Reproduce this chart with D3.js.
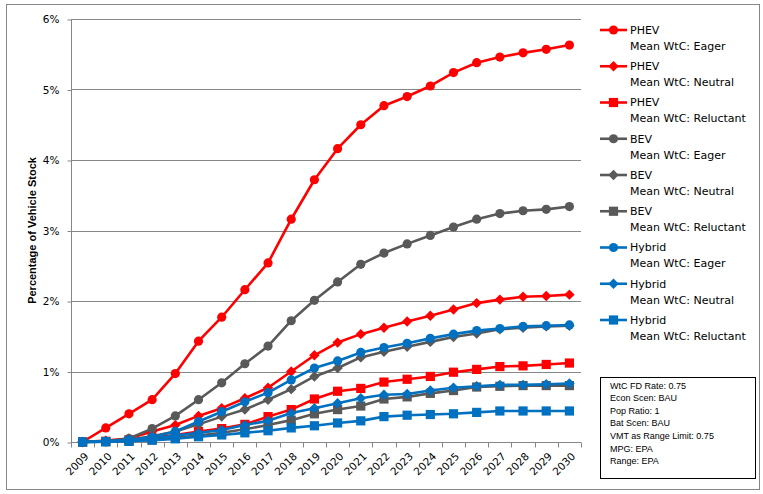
<!DOCTYPE html>
<html><head><meta charset="utf-8">
<script src="https://cdn.jsdelivr.net/npm/d3@7"></script>
<style>
html,body{margin:0;padding:0;background:#fff;}
svg{display:block;}
</style></head>
<body>
<svg id="chart" width="763" height="494"></svg>
<script>
const years = ["2009","2010","2011","2012","2013","2014","2015","2016","2017","2018","2019","2020","2021","2022","2023","2024","2025","2026","2027","2028","2029","2030"];
const yTicks = [0,1,2,3,4,5,6];

const phevEager      = [0,0.20,0.40,0.60,0.97,1.43,1.77,2.16,2.54,3.16,3.72,4.16,4.50,4.77,4.90,5.05,5.24,5.38,5.46,5.52,5.57,5.63];
const phevNeutral    = [0,0.02,0.05,0.15,0.24,0.37,0.48,0.62,0.77,1.00,1.23,1.41,1.53,1.62,1.71,1.79,1.88,1.97,2.02,2.06,2.07,2.09];
const phevReluctant  = [0,0.01,0.03,0.06,0.10,0.15,0.19,0.25,0.36,0.46,0.61,0.72,0.76,0.85,0.89,0.93,0.99,1.03,1.07,1.08,1.10,1.12];
const bevEager       = [0,0.01,0.05,0.19,0.37,0.60,0.84,1.11,1.36,1.72,2.01,2.27,2.52,2.68,2.81,2.93,3.05,3.16,3.24,3.28,3.30,3.34];
const bevNeutral     = [0,0.01,0.03,0.08,0.15,0.25,0.36,0.46,0.60,0.75,0.93,1.05,1.20,1.28,1.35,1.42,1.49,1.54,1.60,1.62,1.64,1.65];
const bevReluctant   = [0,0.005,0.01,0.03,0.06,0.09,0.13,0.18,0.24,0.31,0.40,0.46,0.51,0.61,0.64,0.69,0.73,0.78,0.79,0.80,0.80,0.80];
const hybridEager    = [0,0.01,0.03,0.07,0.15,0.29,0.43,0.57,0.70,0.88,1.05,1.15,1.27,1.34,1.40,1.47,1.53,1.58,1.61,1.64,1.65,1.66];
const hybridNeutral  = [0,0.005,0.02,0.05,0.09,0.13,0.17,0.24,0.30,0.41,0.48,0.55,0.62,0.67,0.68,0.73,0.77,0.79,0.81,0.81,0.82,0.83];
const hybridReluctant= [0,0.003,0.01,0.025,0.045,0.075,0.10,0.13,0.16,0.20,0.23,0.27,0.30,0.36,0.38,0.39,0.40,0.42,0.44,0.44,0.44,0.44];

const seriesNames = ["PHEV","PHEV","PHEV","BEV","BEV","BEV","Hybrid","Hybrid","Hybrid"];
const seriesSub = ["Mean WtC: Eager","Mean WtC: Neutral","Mean WtC: Reluctant","Mean WtC: Eager","Mean WtC: Neutral","Mean WtC: Reluctant","Mean WtC: Eager","Mean WtC: Neutral","Mean WtC: Reluctant"];
const seriesValues = [phevEager,phevNeutral,phevReluctant,bevEager,bevNeutral,bevReluctant,hybridEager,hybridNeutral,hybridReluctant];
const seriesColors = ["#ff0000","#ff0000","#ff0000","#595959","#595959","#595959","#0070c0","#0070c0","#0070c0"];
const seriesMarkers = ["circle","diamond","square","circle","diamond","square","circle","diamond","square"];

const infoLines = ["WtC FD Rate: 0.75","Econ Scen: BAU","Pop Ratio: 1","Bat Scen: BAU","VMT as Range Limit: 0.75","MPG: EPA","Range: EPA"];

const svg = d3.select("#chart");
const axisColor = "#868686";
const pLeft = 71, pRight = 581, pTop = 19, pBottom = 442;

// outer border
svg.append("rect").attr("x",6.5).attr("y",4.5).attr("width",753).attr("height",485)
  .attr("fill","#fff").attr("stroke",axisColor).attr("stroke-width",1);

const x = d3.scaleBand().domain(years).range([pLeft,pRight]);
const xc = d => x(d) + x.bandwidth()/2;
const y = d3.scaleLinear().domain([0,6]).range([pBottom,pTop]);

// gridlines
svg.append("g").selectAll("line").data(yTicks.filter(t=>t>0)).join("line")
  .attr("x1",pLeft).attr("x2",pRight)
  .attr("y1",d=>Math.round(y(d))+0.5).attr("y2",d=>Math.round(y(d))+0.5)
  .attr("stroke",axisColor).attr("stroke-width",1);

// y axis
const yAxis = svg.append("g").attr("transform",`translate(${pLeft+0.5},0.5)`)
  .call(d3.axisLeft(y).tickValues(yTicks).tickFormat(d=>d+"%").tickSize(4).tickPadding(8));
yAxis.select(".domain").attr("stroke",axisColor).attr("d",`M0,${pTop}V${pBottom}`);
yAxis.selectAll(".tick line").attr("stroke",axisColor);
yAxis.selectAll(".tick text").attr("font-family","DejaVu Sans, Verdana, sans-serif").attr("font-size","10.5px").attr("fill","#000");

// x axis
const xAxisG = svg.append("g").attr("transform",`translate(0,${pBottom+0.5})`);
xAxisG.append("line").attr("x1",pLeft).attr("x2",pRight).attr("y1",0).attr("y2",0).attr("stroke",axisColor);
const bounds = years.map(d=>x(d)).concat([pRight]);
xAxisG.selectAll("line.tk").data(bounds).join("line").attr("class","tk")
  .attr("x1",d=>Math.round(d)+0.5).attr("x2",d=>Math.round(d)+0.5).attr("y1",0).attr("y2",5)
  .attr("stroke",axisColor);
xAxisG.selectAll("text").data(years).join("text")
  .attr("transform",d=>`translate(${xc(d)+4},${12}) rotate(-45)`)
  .attr("text-anchor","end").attr("dy","0.35em")
  .attr("font-family","DejaVu Sans, Verdana, sans-serif").attr("font-size","10.5px").attr("fill","#000")
  .text(d=>d);

// y title
svg.append("text").attr("transform",`translate(36,${(pTop+pBottom)/2}) rotate(-90)`)
  .attr("text-anchor","middle").attr("font-family","Liberation Sans, Arial, sans-serif")
  .attr("font-weight","bold").attr("font-size","11px").attr("fill","#000")
  .text("Percentage of Vehicle Stock");

function drawMarker(g, type, cx, cy, color){
  if(type==="circle"){
    g.append("circle").attr("cx",cx).attr("cy",cy).attr("r",4.6).attr("fill",color);
  } else if(type==="square"){
    g.append("rect").attr("x",cx-4.6).attr("y",cy-4.6).attr("width",9.2).attr("height",9.2).attr("fill",color);
  } else {
    const s=5.2;
    g.append("path").attr("d",`M${cx},${cy-s}L${cx+s},${cy}L${cx},${cy+s}L${cx-s},${cy}Z`).attr("fill",color);
  }
}

const line = d3.line().x((d,i)=>xc(years[i])).y(d=>y(d));
seriesValues.forEach((vals,si)=>{
  const g = svg.append("g");
  g.append("path").datum(vals).attr("d",line).attr("fill","none")
    .attr("stroke",seriesColors[si]).attr("stroke-width",2.6).attr("stroke-linejoin","round");
  vals.forEach((v,i)=>drawMarker(g, seriesMarkers[si], xc(years[i]), y(v), seriesColors[si]));
});

// legend
const lg = svg.append("g");
seriesNames.forEach((n,i)=>{
  const cy = 30 + i*36.25;
  lg.append("line").attr("x1",600).attr("x2",627).attr("y1",cy).attr("y2",cy)
    .attr("stroke",seriesColors[i]).attr("stroke-width",2.6);
  drawMarker(lg, seriesMarkers[i], 613.5, cy, seriesColors[i]);
  lg.append("text").attr("x",630).attr("y",cy).attr("dy","0.36em")
    .attr("font-family","DejaVu Sans, Verdana, sans-serif").attr("font-size","11px").attr("fill","#000").text(n);
  lg.append("text").attr("x",630).attr("y",cy+16).attr("dy","0.36em")
    .attr("font-family","DejaVu Sans, Verdana, sans-serif").attr("font-size","11px").attr("fill","#000").text(seriesSub[i]);
});

// info box
const ib = svg.append("g");
ib.append("rect").attr("x",600.5).attr("y",377.5).attr("width",155).attr("height",101)
  .attr("fill","#fff").attr("stroke","#000").attr("stroke-width",1);
infoLines.forEach((t,i)=>{
  ib.append("text").attr("x",610).attr("y",385.5 + i*12.6).attr("dy","0.35em")
    .attr("font-family","Liberation Sans Narrow, Arial Narrow, Liberation Sans, sans-serif")
    .attr("font-size","9px").attr("fill","#000").text(t);
});
</script>
</body></html>
